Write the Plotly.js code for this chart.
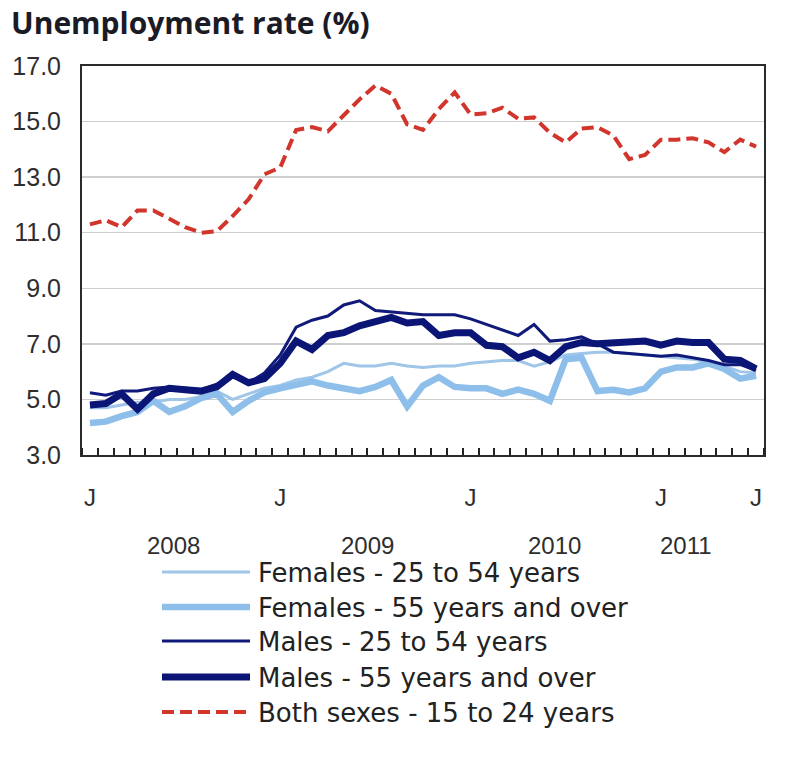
<!DOCTYPE html>
<html>
<head>
<meta charset="utf-8">
<script src="https://cdn.plot.ly/plotly-3.0.1.min.js"></script>
<style>
  html, body { margin: 0; padding: 0; background: #ffffff; }
  #chart { width: 785px; height: 768px; }
</style>
</head>
<body>
<div id="chart"></div>
<script>
// Monthly unemployment rates, January 2008 to July 2011 (%)
const months = [
  '2008-01','2008-02','2008-03','2008-04','2008-05','2008-06','2008-07','2008-08','2008-09','2008-10','2008-11','2008-12',
  '2009-01','2009-02','2009-03','2009-04','2009-05','2009-06','2009-07','2009-08','2009-09','2009-10','2009-11','2009-12',
  '2010-01','2010-02','2010-03','2010-04','2010-05','2010-06','2010-07','2010-08','2010-09','2010-10','2010-11','2010-12',
  '2011-01','2011-02','2011-03','2011-04','2011-05','2011-06','2011-07'
];

const females25to54 = [
  4.7, 4.7, 4.8, 4.9, 4.9, 5.0, 5.0, 5.1, 5.3, 5.0, 5.2, 5.4,
  5.5, 5.7, 5.8, 6.0, 6.3, 6.2, 6.2, 6.3, 6.2, 6.15, 6.2, 6.2,
  6.3, 6.35, 6.4, 6.4, 6.2, 6.35, 6.6, 6.65, 6.7, 6.7, 6.65, 6.6,
  6.55, 6.5, 6.45, 6.35, 6.2, 6.0, 5.95
];

const females55plus = [
  4.15, 4.2, 4.4, 4.55, 4.95, 4.55, 4.75, 5.05, 5.2, 4.55, 4.95, 5.25,
  5.4, 5.5, 5.65, 5.5, 5.4, 5.3, 5.45, 5.7, 4.75, 5.5, 5.8, 5.45,
  5.4, 5.4, 5.2, 5.35, 5.2, 4.95, 6.45, 6.5, 5.3, 5.35, 5.25, 5.4,
  6.0, 6.15, 6.15, 6.3, 6.1, 5.75, 5.85
];

const males25to54 = [
  5.24, 5.15, 5.3, 5.3, 5.4, 5.45, 5.4, 5.35, 5.55, 5.8, 5.6, 5.95,
  6.6, 7.6, 7.85, 8.0, 8.4, 8.55, 8.2, 8.15, 8.1, 8.05, 8.05, 8.05,
  7.9, 7.7, 7.5, 7.3, 7.7, 7.1, 7.15, 7.25, 7.0, 6.7, 6.65, 6.6,
  6.55, 6.6, 6.5, 6.4, 6.25, 6.25, 6.05
];

const males55plus = [
  4.8, 4.85, 5.2, 4.65, 5.2, 5.4, 5.35, 5.3, 5.45, 5.9, 5.6, 5.75,
  6.3, 7.1, 6.8, 7.3, 7.4, 7.65, 7.8, 7.95, 7.75, 7.8, 7.3, 7.4,
  7.4, 6.95, 6.9, 6.5, 6.7, 6.4, 6.9, 7.05, 7.0, 7.05, 7.1, 7.1,
  6.95, 7.1, 7.05, 7.05, 6.45, 6.4, 6.1
];

const bothSexes15to24 = [
  11.3, 11.45, 11.2, 11.8, 11.8, 11.5, 11.2, 11.0, 11.05, 11.6, 12.2, 13.1,
  13.35, 14.7, 14.8, 14.65, 15.25, 15.8, 16.3, 16.0, 14.9, 14.7, 15.45, 16.05,
  15.25, 15.3, 15.5, 15.1, 15.15, 14.6, 14.25, 14.75, 14.8, 14.5, 13.65, 13.8,
  14.35, 14.35, 14.4, 14.25, 13.9, 14.35, 14.1
];

const seriesNames = [
  'Females - 25 to 54 years',
  'Females - 55 years and over',
  'Males - 25 to 54 years',
  'Males - 55 years and over',
  'Both sexes - 15 to 24 years'
];
const seriesValues = [females25to54, females55plus, males25to54, males55plus, bothSexes15to24];

// Axis labels
const monthTickLabels = ['J', 'J', 'J', 'J', 'J'];
const monthTickMonths = ['2008-01', '2009-01', '2010-01', '2011-01', '2011-07'];
const yearLabels = ['2008', '2009', '2010', '2011'];

// Line styles, in series order
const lineStyles = [
  { color: '#9fc5e8', width: 3,   dash: 'solid' },
  { color: '#8dbfea', width: 6.5, dash: 'solid' },
  { color: '#101a7a', width: 3,   dash: 'solid' },
  { color: '#0b1575', width: 7,   dash: 'solid' },
  { color: '#d2352c', width: 4,   dash: '12px,6px' }
];

const xIndex = months.map((_, i) => i);

const traces = seriesValues.map((vals, k) => ({
  type: 'scatter',
  mode: 'lines',
  name: seriesNames[k],
  x: xIndex,
  y: vals,
  text: months,
  hovertemplate: '%{text}: %{y:.1f}%<extra>' + seriesNames[k] + '</extra>',
  line: { color: lineStyles[k].color, width: lineStyles[k].width, dash: lineStyles[k].dash },
  showlegend: false
}));

// Plot area geometry in pixels, used to lay out the hand-drawn legend
const W = 785, H = 768;
const M = { l: 82, r: 21, t: 66, b: 313 };
const plotW = W - M.l - M.r, plotH = H - M.t - M.b;
const px2paperX = px => (px - M.l) / plotW;
const px2paperY = py => (H - M.b - py) / plotH;

const legendRowsY = [572, 607, 641, 677, 712];
const legendLineX0 = 162, legendLineX1 = 250, legendTextX = 256;

const shapes = seriesNames.map((_, k) => ({
  type: 'line', xref: 'paper', yref: 'paper',
  x0: px2paperX(legendLineX0), x1: px2paperX(legendLineX1),
  y0: px2paperY(legendRowsY[k]), y1: px2paperY(legendRowsY[k]),
  line: { color: lineStyles[k].color, width: lineStyles[k].width, dash: lineStyles[k].dash }
}));

const legendText = seriesNames.map((name, k) => ({
  text: name, xref: 'paper', yref: 'paper',
  x: px2paperX(legendTextX), y: px2paperY(legendRowsY[k] + 1),
  xanchor: 'left', yanchor: 'middle', showarrow: false,
  font: { family: 'DejaVu Sans, Verdana, sans-serif', size: 26, color: '#222222' }
}));

// Year captions sit under the month letters
const yearPositions = [5.3, 17.5, 29.3, 37.6];
const yearText = yearLabels.map((yr, k) => ({
  text: yr, xref: 'x', yref: 'paper',
  x: yearPositions[k], y: px2paperY(545),
  xanchor: 'center', yanchor: 'middle', showarrow: false,
  font: { family: 'Liberation Sans, Arial, sans-serif', size: 24, color: '#2e2e2e' }
}));

const layout = {
  width: W, height: H,
  margin: M,
  paper_bgcolor: '#ffffff',
  plot_bgcolor: '#ffffff',
  showlegend: false,
  title: {
    text: '<b>Unemployment rate (%)</b>',
    xref: 'container', yref: 'container',
    x: 11 / W, xanchor: 'left',
    y: 1 - 23 / H, yanchor: 'middle',
    font: { family: 'Open Sans, sans-serif', size: 30, color: '#1b1b26' }
  },
  xaxis: {
    type: 'linear',
    range: [-0.5, months.length - 0.5],
    tickmode: 'array',
    tickvals: monthTickMonths.map(m => months.indexOf(m)),
    ticktext: monthTickLabels,
    ticks: '',
    ticklabelstandoff: 20,
    tickfont: { family: 'Liberation Sans, Arial, sans-serif', size: 24, color: '#2e2e2e' },
    showgrid: false,
    zeroline: false,
    showline: true, mirror: true, linecolor: '#2a2a2a', linewidth: 2,
    minor: {
      tickmode: 'linear', tick0: 0.5, dtick: 1,
      ticks: 'inside', ticklen: 7, tickwidth: 2, tickcolor: '#222222',
      showgrid: false
    }
  },
  yaxis: {
    range: [3, 17],
    tickmode: 'linear', tick0: 3, dtick: 2,
    tickformat: '.1f',
    ticks: '',
    ticklabelstandoff: 14,
    tickfont: { family: 'Liberation Sans, Arial, sans-serif', size: 25, color: '#2e2e2e' },
    showgrid: true, gridcolor: '#cfcfcf', gridwidth: 1.5,
    zeroline: false,
    showline: true, mirror: true, linecolor: '#2a2a2a', linewidth: 2
  },
  shapes: shapes,
  annotations: legendText.concat(yearText)
};

Plotly.newPlot('chart', traces, layout, { displayModeBar: false, staticPlot: true });
</script>
</body>
</html>
